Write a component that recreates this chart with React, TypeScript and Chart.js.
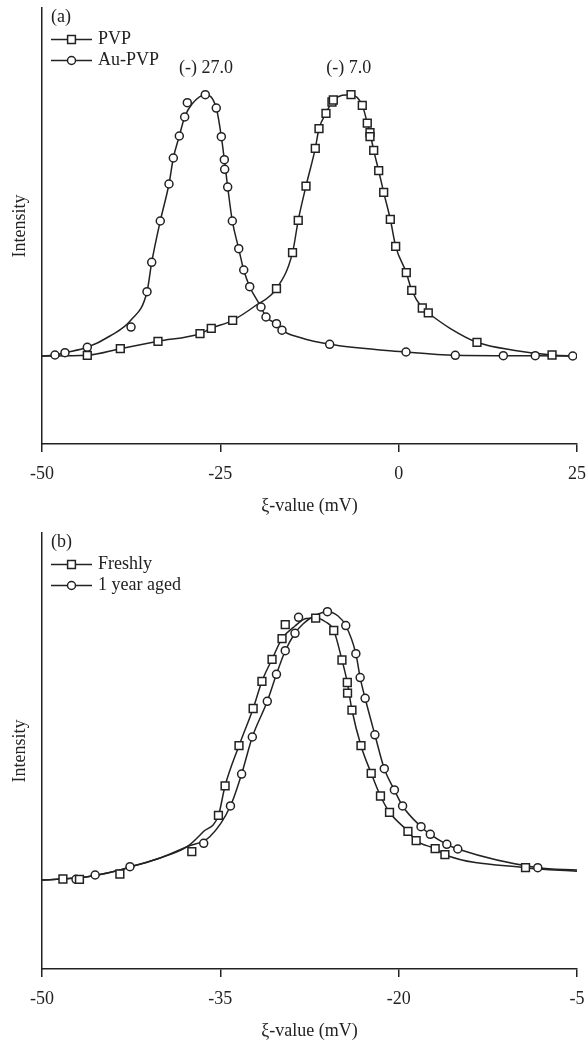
import React, { useEffect, useRef } from 'react';
import { Chart, registerables } from 'chart.js';

Chart.register(...registerables);

const FONT = '"Liberation Serif", "Times New Roman", serif';
const INK = '#222';

// ---------- Panel (a) ----------
const xTicksA = [-50, -25, 0, 25];
const pvpX = [-43.65, -39.02, -33.74, -27.85, -26.27, -23.27, -17.13, -14.88, -14.08, -12.99, -11.69, -11.17, -10.19, -9.35, -9.16, -6.68, -5.1, -4.4, -4.02, -4.02, -3.5, -2.8, -2.1, -1.17, -0.42, 1.07, 1.83, 3.31, 4.15, 10.98, 21.5];
const pvpY = [20.34, 21.86, 23.56, 25.3, 26.54, 28.37, 35.62, 43.88, 51.31, 59.17, 67.82, 72.32, 75.85, 78.44, 78.9, 80.12, 77.68, 73.62, 71.4, 70.48, 67.36, 62.68, 57.73, 51.54, 45.34, 39.29, 35.25, 31.19, 30.05, 23.33, 20.41];
const auPvpX = [-48.18, -46.78, -43.65, -37.52, -35.28, -34.62, -33.42, -32.2, -31.59, -30.75, -30.0, -29.63, -27.11, -25.57, -24.86, -24.44, -24.39, -23.97, -23.32, -22.42, -21.72, -20.88, -19.3, -18.6, -17.13, -16.36, -9.67, 1.03, 7.94, 14.67, 19.15, 24.4];
const auPvpY = [20.41, 20.94, 22.18, 26.83, 34.93, 41.67, 51.15, 59.63, 65.6, 70.64, 75.0, 78.28, 80.12, 77.06, 70.48, 65.21, 63.0, 58.94, 51.15, 44.79, 39.91, 36.08, 31.42, 29.13, 27.59, 26.1, 22.87, 21.1, 20.34, 20.25, 20.25, 20.18];
const pvpCurveX = [-50, -43.65, -39.02, -33.74, -27.85, -26.27, -23.27, -20.14, -17.13, -14.88, -14.08, -12.99, -11.69, -11.17, -10.19, -9.16, -6.68, -5.1, -4.4, -4.02, -3.5, -2.8, -2.1, -1.17, -0.42, 1.07, 1.83, 3.31, 4.15, 7.2, 10.98, 16.31, 21.5, 25];
const pvpCurveY = [20.18, 20.34, 21.86, 23.56, 25.3, 26.54, 28.37, 31.65, 35.62, 43.88, 51.31, 59.17, 67.82, 72.32, 75.85, 78.9, 80.12, 77.68, 73.62, 71.4, 67.36, 62.68, 57.73, 51.54, 45.34, 39.29, 35.25, 31.19, 30.05, 26.54, 23.33, 21.45, 20.41, 20.18];
const auPvpCurveX = [-50, -48.18, -46.78, -43.65, -40.47, -37.52, -35.28, -34.62, -33.42, -32.2, -31.59, -30.75, -30.0, -28.97, -27.11, -25.57, -24.86, -24.44, -23.97, -23.32, -22.42, -21.72, -20.88, -19.3, -18.6, -17.13, -16.36, -13.83, -9.67, 1.03, 7.94, 14.67, 19.15, 25];
const auPvpCurveY = [20.18, 20.41, 20.94, 22.18, 24.77, 28.44, 34.93, 41.67, 51.15, 59.63, 65.6, 70.64, 75.0, 77.98, 80.12, 77.06, 70.48, 65.21, 58.94, 51.15, 44.79, 39.91, 36.08, 31.42, 29.13, 27.59, 26.1, 24.43, 22.87, 21.1, 20.34, 20.25, 20.25, 20.18];
const peakLabelsA = ['(-) 27.0', '(-) 7.0'];
const peakLabelXA = [-27, -7];
const peakLabelYA = [86.2, 86.2];

// ---------- Panel (b) ----------
const xTicksB = [-50, -35, -20, -5];
const freshX = [-48.24, -46.85, -43.45, -37.4, -35.16, -34.6, -33.43, -32.24, -31.5, -30.65, -29.81, -29.54, -26.98, -25.46, -24.77, -24.32, -24.3, -23.93, -23.17, -22.31, -21.53, -20.77, -19.22, -18.53, -16.93, -16.11, -9.33];
const freshY = [20.64, 20.57, 21.79, 26.9, 35.25, 42.02, 51.22, 59.75, 65.99, 71.03, 75.76, 78.97, 80.5, 77.64, 70.87, 65.71, 63.26, 59.4, 51.22, 44.89, 39.68, 35.94, 31.58, 29.43, 27.59, 26.22, 23.23];
const agedX = [-47.14, -45.53, -42.6, -36.4, -34.15, -33.21, -32.31, -31.05, -30.28, -29.54, -28.72, -28.42, -25.99, -24.45, -23.6, -23.24, -22.82, -22.0, -21.21, -20.36, -19.67, -18.12, -17.34, -15.95, -15.03, -8.3];
const agedY = [20.57, 21.56, 23.46, 28.83, 37.39, 44.72, 53.21, 61.4, 67.59, 73.0, 77.0, 80.67, 81.95, 78.78, 72.32, 66.84, 62.09, 53.72, 45.94, 41.06, 37.39, 32.64, 30.89, 28.6, 27.52, 23.23];
const freshCurveX = [-50, -47.14, -45.54, -43.44, -42.6, -40.07, -37.8, -36.46, -35.16, -34.6, -33.43, -32.24, -31.5, -30.65, -29.81, -28.72, -27.79, -26.98, -26.2, -25.46, -24.77, -24.32, -23.93, -23.17, -22.31, -21.53, -20.77, -19.22, -18.53, -16.93, -16.11, -9.33, -5];
const freshCurveY = [20.41, 20.87, 21.45, 22.71, 23.39, 25.46, 28.05, 31.42, 35.25, 42.02, 51.22, 59.75, 65.99, 71.03, 75.76, 78.67, 80.39, 80.5, 79.7, 77.64, 70.87, 65.71, 59.4, 51.22, 44.89, 39.68, 35.94, 31.58, 29.43, 27.59, 26.22, 23.23, 22.4];
const agedCurveX = [-50, -47.14, -45.54, -43.44, -42.6, -40.07, -37.8, -35.89, -34.15, -33.21, -32.31, -31.05, -30.28, -29.54, -28.72, -28.05, -27.04, -25.99, -25.1, -24.45, -23.6, -23.24, -22.82, -22.0, -21.21, -20.36, -19.67, -18.12, -17.34, -15.95, -15.03, -8.3, -5];
const agedCurveY = [20.41, 20.87, 21.45, 22.71, 23.39, 25.46, 28.05, 30.34, 37.39, 44.72, 53.21, 61.4, 67.59, 73.0, 77.0, 79.13, 81.08, 81.95, 80.96, 78.78, 72.32, 66.84, 62.09, 53.72, 45.94, 41.06, 37.39, 32.64, 30.89, 28.6, 27.52, 23.23, 22.71];

const pts = (xs: number[], ys: number[]) => xs.map((x, i) => ({ x, y: ys[i] }));

type PanelSpec = {
  tag: string;
  names: [string, string];
  markX: [number[], number[]];
  markY: [number[], number[]];
  curveX: [number[], number[]];
  curveY: [number[], number[]];
  ticks: number[];
  labels: string[];
  labelX: number[];
  labelY: number[];
};

const panelA: PanelSpec = {
  tag: '(a)',
  names: ['PVP', 'Au-PVP'],
  markX: [pvpX, auPvpX],
  markY: [pvpY, auPvpY],
  curveX: [pvpCurveX, auPvpCurveX],
  curveY: [pvpCurveY, auPvpCurveY],
  ticks: xTicksA,
  labels: peakLabelsA,
  labelX: peakLabelXA,
  labelY: peakLabelYA,
};

const panelB: PanelSpec = {
  tag: '(b)',
  names: ['Freshly', '1 year aged'],
  markX: [freshX, agedX],
  markY: [freshY, agedY],
  curveX: [freshCurveX, agedCurveX],
  curveY: [freshCurveY, agedCurveY],
  ticks: xTicksB,
  labels: [],
  labelX: [],
  labelY: [],
};

const SQ_R = 5.5;
const CI_R = 4;

function drawMarker(ctx: CanvasRenderingContext2D, style: string, x: number, y: number) {
  ctx.beginPath();
  if (style === 'rect') {
    const h = SQ_R * Math.SQRT1_2;
    ctx.rect(x - h, y - h, 2 * h, 2 * h);
  } else {
    ctx.arc(x, y, CI_R, 0, Math.PI * 2);
  }
  ctx.fillStyle = '#fff';
  ctx.fill();
  ctx.lineWidth = 1.5;
  ctx.strokeStyle = INK;
  ctx.stroke();
}

function Panel({ spec, top, height }: { spec: PanelSpec; top: number; height: number }) {
  const ref = useRef<HTMLCanvasElement | null>(null);
  useEffect(() => {
    if (!ref.current) return;
    const styles = ['rect', 'circle'];
    const overlay = {
      id: 'overlay',
      afterDraw(chart: any) {
        const ctx = chart.ctx as CanvasRenderingContext2D;
        ctx.save();
        ctx.font = `18px ${FONT}`;
        ctx.fillStyle = INK;
        ctx.textBaseline = 'middle';
        ctx.textAlign = 'left';
        ctx.fillText(spec.tag, 51, 17);
        const rows = [39.5, 60.5];
        spec.names.forEach((n, i) => {
          const y = rows[i];
          ctx.beginPath();
          ctx.moveTo(51, y);
          ctx.lineTo(92, y);
          ctx.lineWidth = 1.5;
          ctx.strokeStyle = INK;
          ctx.stroke();
          drawMarker(ctx, styles[i], 71.5, y);
          ctx.fillStyle = INK;
          ctx.fillText(n, 98, y);
        });
        ctx.textAlign = 'center';
        const xs = chart.scales.x;
        const ys = chart.scales.y;
        spec.labels.forEach((t, i) => {
          ctx.fillText(t, xs.getPixelForValue(spec.labelX[i]), ys.getPixelForValue(spec.labelY[i]));
        });
        ctx.restore();
      },
    };
    const markerSet = (i: number) => ({
      label: spec.names[i],
      data: pts(spec.markX[i], spec.markY[i]),
      showLine: false,
      pointStyle: styles[i],
      pointRadius: i === 0 ? SQ_R : CI_R,
      pointBackgroundColor: '#fff',
      pointBorderColor: INK,
      pointBorderWidth: 1.5,
      order: 0,
    });
    const curveSet = (i: number) => ({
      label: spec.names[i] + ' curve',
      data: pts(spec.curveX[i], spec.curveY[i]),
      showLine: true,
      pointRadius: 0,
      borderColor: INK,
      borderWidth: 1.5,
      cubicInterpolationMode: 'monotone',
      order: 1,
    });
    const chart = new Chart(ref.current, {
      type: 'scatter',
      data: { datasets: [markerSet(0), markerSet(1), curveSet(0), curveSet(1)] as any },
      options: {
        animation: false,
        responsive: false,
        layout: { padding: { top: 8, right: 10, left: 0, bottom: 0 } },
        plugins: { legend: { display: false }, tooltip: { enabled: false } },
        scales: {
          x: {
            type: 'linear',
            min: spec.ticks[0],
            max: spec.ticks[spec.ticks.length - 1],
            afterBuildTicks: (s: any) => {
              s.ticks = spec.ticks.map((v) => ({ value: v }));
            },
            afterFit: (s: any) => {
              s.height = 73;
              s.paddingLeft = 0;
              s.paddingRight = 0;
            },
            ticks: { color: INK, font: { family: FONT, size: 18 }, padding: 11, maxRotation: 0, autoSkip: false },
            grid: { drawOnChartArea: false, drawTicks: true, tickLength: 8, color: INK, lineWidth: 1.5 },
            border: { display: true, color: INK, width: 1.5 },
            title: { display: true, text: 'ξ-value (mV)', color: INK, font: { family: FONT, size: 18 }, padding: { top: 0, bottom: 0 } },
          },
          y: {
            type: 'linear',
            min: 0,
            max: 100,
            afterFit: (s: any) => {
              s.width = 42;
              s.paddingTop = 0;
              s.paddingBottom = 0;
            },
            ticks: { display: false },
            grid: { display: false, drawTicks: false },
            border: { display: true, color: INK, width: 1.5 },
            title: { display: true, text: 'Intensity', color: INK, font: { family: FONT, size: 18 }, padding: { top: 9, bottom: 0 } },
          },
        },
      } as any,
      plugins: [overlay],
    });
    return () => chart.destroy();
  }, [spec]);
  return (
    <canvas
      ref={ref}
      width={587}
      height={height}
      style={{ position: 'absolute', left: 0, top, width: 587, height, display: 'block' }}
    />
  );
}

export default function App() {
  return (
    <div style={{ position: 'absolute', left: 0, top: 0, width: 587, height: 1042, background: '#fff' }}>
      <Panel spec={panelA} top={0} height={517} />
      <Panel spec={panelB} top={525} height={517} />
    </div>
  );
}
